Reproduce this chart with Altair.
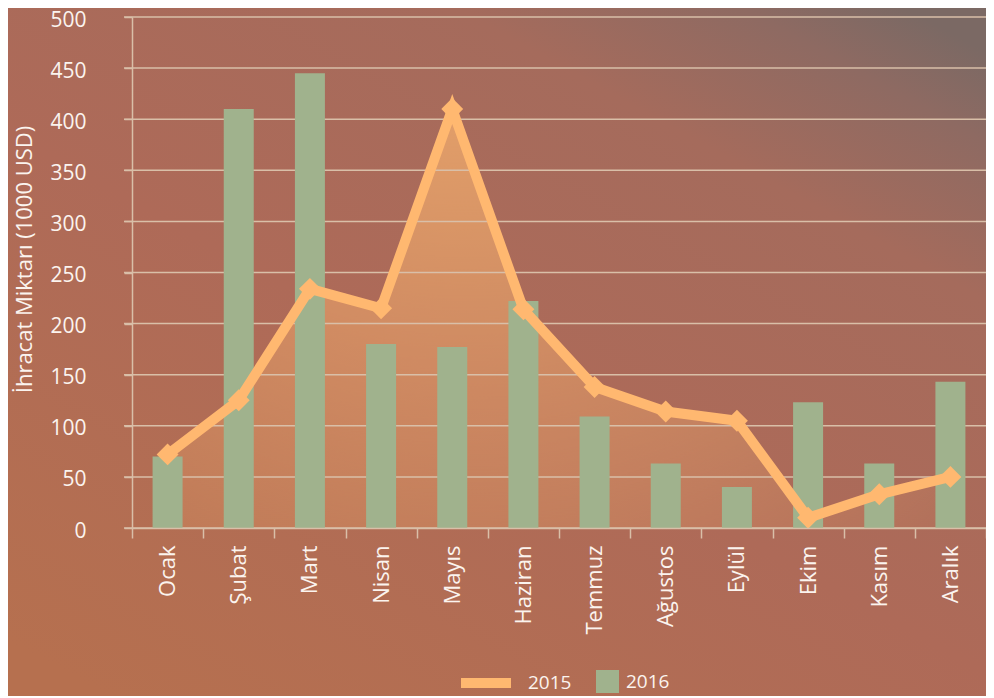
import altair as alt
import pandas as pd

months = ["Ocak", "Şubat", "Mart", "Nisan", "Mayıs", "Haziran",
          "Temmuz", "Ağustos", "Eylül", "Ekim", "Kasım", "Aralık"]
v2015 = [72, 125, 234, 215, 410, 214, 138, 114, 105, 10, 33, 50]
v2016 = [70, 410, 445, 180, 177, 222, 109, 63, 40, 123, 63, 143]
y_ticks = list(range(0, 501, 50))

ORANGE = "#FFB870"
GREEN = "#A0B28D"
GRID = "#D9BFA8"
TXT = "#FBF4EF"
FONT = "Open Sans"

df = pd.DataFrame({"ay": months, "v2015": v2015, "v2016": v2016,
                   "s1": ["2015"] * 12, "s2": ["2016"] * 12})
grid_df = pd.DataFrame({"t": y_ticks})
one = pd.DataFrame({"a": [0]})

W, H = 854, 511
PL, PT, PR, PB = 124, 9, 0, 168

yscale = alt.Scale(domain=[0, 500], nice=False)
xscale = alt.Scale(domain=months, paddingInner=0, paddingOuter=0)

bg = alt.Chart(one).mark_rect(
    fill=alt.LinearGradient(
        gradient="linear", x1=0.9, y1=0, x2=0.1, y2=1,
        stops=[alt.GradientStop(color="#7B6964", offset=0),
               alt.GradientStop(color="#8E6A62", offset=0.08),
               alt.GradientStop(color="#A56B5C", offset=0.22),
               alt.GradientStop(color="#AE6A58", offset=0.55),
               alt.GradientStop(color="#B6704F", offset=1)])
).encode(x=alt.value(-PL), x2=alt.value(W + PR + 20),
         y=alt.value(-PT), y2=alt.value(H + PB))

area = alt.Chart(df).mark_area(
    fill=alt.RadialGradient(
        gradient="radial", x1=0.38, y1=0.0, r1=0, x2=0.38, y2=0.0, r2=1.0,
        stops=[alt.GradientStop(color="rgba(255,184,112,0.85)", offset=0),
               alt.GradientStop(color="rgba(255,184,112,0.38)", offset=0.6),
               alt.GradientStop(color="rgba(255,184,112,0.06)", offset=1)])
).encode(x=alt.X("ay:N", scale=xscale), y=alt.Y("v2015:Q", scale=yscale))

rules = alt.Chart(grid_df).mark_rule(color=GRID, strokeWidth=1.5).encode(
    y=alt.Y("t:Q", scale=yscale), x=alt.value(-8), x2=alt.value(W))

bars = alt.Chart(df).mark_bar(size=30).encode(
    x=alt.X("ay:N", sort=months, scale=xscale, title=None,
            axis=alt.Axis(labelAngle=-90, tickBand="extent", tickSize=10,
                          tickColor=GRID, tickWidth=1.5, domainColor=GRID,
                          domainWidth=1.5, labelPadding=7, labelFont=FONT,
                          labelFontSize=22, labelColor=TXT, zindex=1)),
    y=alt.Y("v2016:Q", scale=yscale,
            title="İhracat Miktarı (1000 USD)",
            axis=alt.Axis(values=y_ticks, grid=False, tickSize=8, tickColor=GRID,
                          tickWidth=1.5, domainColor=GRID, domainWidth=1.5,
                          labelPadding=38, labelFont=FONT, labelFontSize=21,
                          labelColor=TXT, labelOffset=3, labelFlush=False,
                          titleFont=FONT, titleFontSize=22, titleFontWeight="normal",
                          titleColor=TXT, titleX=-108, titleY=242,
                          titleAngle=-90, titleAlign="center",
                          titleBaseline="middle", zindex=1)),
    fill=alt.Fill("s2:N", scale=alt.Scale(domain=["2016"], range=[GREEN]),
                  legend=alt.Legend(title=None, orient="none", legendX=464,
                                    legendY=653, symbolType="square",
                                    symbolSize=529, symbolStrokeWidth=0,
                                    labelFont=FONT, labelFontSize=19,
                                    labelColor=TXT, labelOffset=7, zindex=1)),
)

line = alt.Chart(df).mark_line(strokeWidth=10).encode(
    x=alt.X("ay:N", scale=xscale),
    y=alt.Y("v2015:Q", scale=yscale),
    stroke=alt.Stroke("s1:N", scale=alt.Scale(domain=["2015"], range=[ORANGE]),
                      legend=alt.Legend(title=None, orient="none", legendX=324,
                                        legendY=636, symbolType="stroke",
                                        symbolSize=2500, symbolStrokeWidth=10,
                                        labelFont=FONT, labelFontSize=19,
                                        labelColor=TXT, labelOffset=12,
                                        zindex=1)),
)

points = alt.Chart(df).mark_point(shape="diamond", filled=True, size=480,
                                  color=ORANGE, opacity=1).encode(
    x=alt.X("ay:N", scale=xscale), y=alt.Y("v2015:Q", scale=yscale))

chart = alt.layer(bg, area, rules, bars, line, points).properties(
    width=W, height=H,
    padding={"left": PL, "top": PT, "right": PR, "bottom": PB},
    autosize=alt.AutoSizeParams(type="none"),
    background="#AE6E5A",
).configure_view(stroke=None)

chart.save("out.html", embed_options={"renderer": "svg", "actions": False})
